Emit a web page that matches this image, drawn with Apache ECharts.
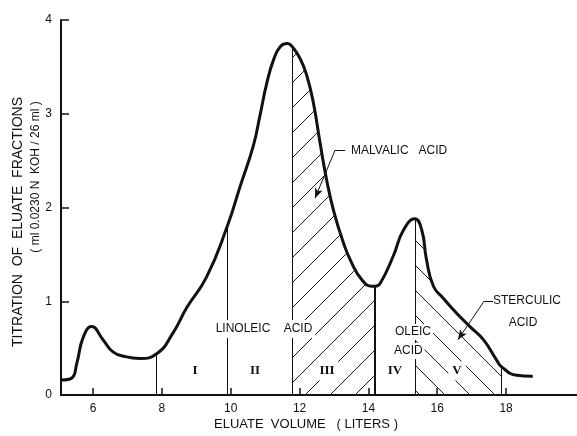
<!DOCTYPE html>
<html><head><meta charset="utf-8">
<script src="https://cdn.jsdelivr.net/npm/echarts@6/dist/echarts.min.js"></script>
<style>html,body{margin:0;padding:0;background:#fff}#c{width:577px;height:436px}</style>
</head><body><div id="c"></div>
<script>
// eluate volume (liters) and titration (ml 0.0230N KOH / 26 ml)
const volume = [5.09,5.38,5.53,5.72,5.96,6.29,6.58,6.93,7.37,7.85,8.32,8.72,9.30,9.90,10.27,10.65,10.85,11.05,11.25,11.45,11.65,11.80,12.00,12.20,12.40,12.60,12.80,13.00,13.25,13.50,13.81,14.10,14.19,14.34,14.72,15.02,15.35,15.55,15.69,15.89,16.18,16.57,16.95,17.34,17.73,17.87,18.31,18.74];
const titration = [0.16,0.18,0.34,0.62,0.73,0.59,0.46,0.41,0.39,0.44,0.66,0.93,1.26,1.80,2.22,2.65,2.98,3.33,3.58,3.72,3.75,3.71,3.60,3.42,3.12,2.68,2.27,1.95,1.65,1.42,1.23,1.16,1.16,1.19,1.48,1.76,1.88,1.76,1.44,1.16,1.03,0.87,0.73,0.59,0.37,0.30,0.21,0.20];
const xTicks = [6,8,10,12,14,16,18];
const yTicks = [0,1,2,3,4];
const fractionBounds = [7.85,9.90,11.80,14.19,15.35,17.87];
const malvalicRange = [11.80,14.19];
const sterculicRange = [15.35,17.87];
const fractionNames = ['I','II','III','IV','V'];
// leader lines (data coordinates)
const malvalicLeader = [[13.32,2.61],[13.03,2.61],[12.45,2.10]];
const sterculicLeader = [[17.62,1.00],[17.36,1.00],[16.60,0.59]];

const pts = volume.map((v,i)=>[v,titration[i]]);
const sub = r => pts.filter(p=>p[0]>=r[0]-1e-9 && p[0]<=r[1]+1e-9);
const yAt = x => titration[volume.indexOf(x)];

function hatch(dir){
  const s=25, c=document.createElement('canvas'); c.width=s; c.height=s;
  const g=c.getContext('2d'); g.strokeStyle='#1a1a1a'; g.lineWidth=1;
  g.beginPath();
  if(dir==='/'){g.moveTo(-2,s+2);g.lineTo(s+2,-2);} else {g.moveTo(-2,-2);g.lineTo(s+2,s+2);}
  g.stroke(); return c;
}

const FONT='Liberation Sans';
const ink='#111';
const SM=0.5;
const chart = echarts.init(document.getElementById('c'),null,{renderer:'canvas'});

const boundLines = fractionBounds.map((b,i)=>[
  {coord:[b,0], lineStyle:{width: i===3?2:1, color:ink}},
  {coord:[b,yAt(b)]}
]);
const leader = (L)=>[
  [{coord:L[0],symbol:'none'},{coord:L[1],symbol:'none'}],
  [{coord:L[1],symbol:'none'},{coord:L[2],symbol:'arrow',symbolSize:[6,10]}]
];
const txt = (x,y,t,extra)=>Object.assign({type:'text',z:100,x:x,y:y,style:Object.assign({text:t,font:'12px '+FONT,fill:ink,align:'left',verticalAlign:'middle'},extra||{})});
const roman = (x,t,pad)=>({type:'text',z:100,x:x,y:371,style:{text:t,font:'bold 13px Liberation Serif',fill:ink,align:'center',verticalAlign:'middle',backgroundColor:'#fff',padding:pad}});

chart.setOption({
  animation:false,
  backgroundColor:'#fff',
  grid:{left:61,right:0,top:20,bottom:41,containLabel:false},
  xAxis:{type:'value',min:5.07,max:20.06,
    axisLine:{show:true,lineStyle:{color:ink,width:2}},
    axisTick:{show:true,inside:true,length:7,customValues:xTicks,lineStyle:{color:ink,width:1.5}},
    axisLabel:{show:true,customValues:xTicks,margin:8,fontFamily:FONT,fontSize:12,color:ink},
    splitLine:{show:false}},
  yAxis:{type:'value',min:0,max:4,
    axisLine:{show:true,lineStyle:{color:ink,width:2}},
    axisTick:{show:true,inside:true,length:8,customValues:yTicks,lineStyle:{color:ink,width:1.5}},
    axisLabel:{show:true,customValues:yTicks,margin:9,fontFamily:FONT,fontSize:12,color:ink},
    splitLine:{show:false}},
  series:[
    {type:'line',data:sub(malvalicRange),smooth:SM,symbol:'none',
      lineStyle:{width:0},areaStyle:{color:{image:hatch('/'),repeat:'repeat'},opacity:1},z:1},
    {type:'line',data:sub(sterculicRange),smooth:SM,symbol:'none',
      lineStyle:{width:0},areaStyle:{color:{image:hatch('\\'),repeat:'repeat'},opacity:1},z:1},
    {type:'line',data:pts,smooth:SM,symbol:'none',z:3,
      lineStyle:{color:ink,width:3,join:'round',cap:'round'},
      markLine:{silent:true,symbol:['none','none'],label:{show:false},
        lineStyle:{color:ink,width:1,type:'solid'},
        data:[...boundLines, ...leader(malvalicLeader), ...leader(sterculicLeader)]}}
  ],
  graphic:[
    {type:'text',z:100,x:18,y:222,rotation:Math.PI/2,style:{text:'TITRATION  OF  ELUATE  FRACTIONS',font:'14px '+FONT,fill:ink,align:'center',verticalAlign:'middle'}},
    {type:'text',z:100,x:36,y:177,rotation:Math.PI/2,style:{text:'( ml 0.0230 N  KOH / 26 ml )',font:'12px '+FONT,fill:ink,align:'center',verticalAlign:'middle'}},
    txt(306,424,'ELUATE  VOLUME   ( LITERS )',{font:'13px '+FONT,align:'center'}),
    txt(351,151,'MALVALIC   ACID'),
    txt(264,329,'LINOLEIC    ACID',{align:'center',backgroundColor:'#fff',padding:[3,3]}),
    txt(393,332,'OLEIC',{backgroundColor:'#fff',padding:[2,2]}),
    txt(392,351,'ACID',{backgroundColor:'#fff',padding:[2,2]}),
    txt(527,301,'STERCULIC',{align:'center'}),
    txt(523,323,'ACID',{align:'center'}),
    roman(195,fractionNames[0],[2,3]),
    roman(255,fractionNames[1],[2,3]),
    roman(327,fractionNames[2],[3,4]),
    roman(395,fractionNames[3],[2,3]),
    roman(457,fractionNames[4],[3,4])
  ]
});
</script></body></html>
